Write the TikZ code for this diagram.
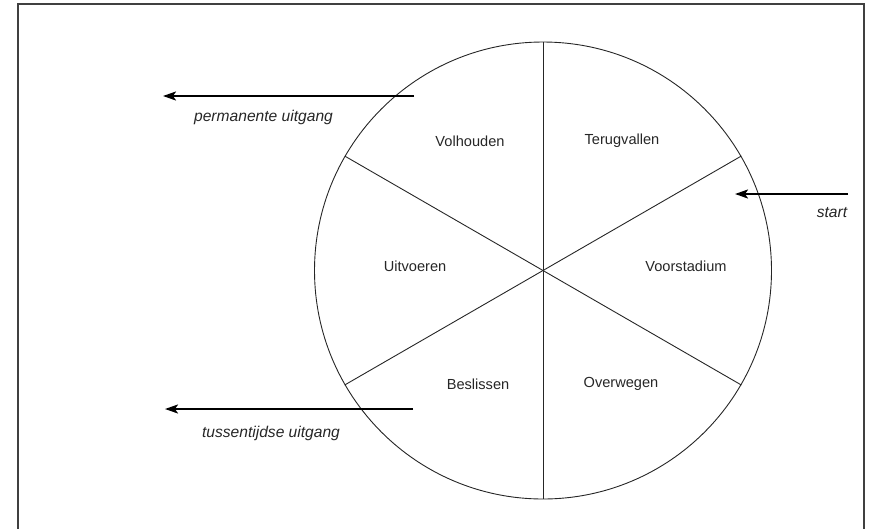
\documentclass[tikz,border=0pt]{standalone}
\usepackage{fontspec}
\setmainfont{Liberation Sans}
\usetikzlibrary{arrows.meta}
\begin{document}
\begin{tikzpicture}[x=1pt,y=-1pt,
  phase/.style={font=\fontsize{14.6}{16}\selectfont, text=black!85, inner sep=0pt},
  exitlbl/.style={font=\fontsize{15.6}{17}\selectfont\itshape, text=black!85, inner sep=0pt},
  flow/.style={line width=2pt, -{Stealth[length=13pt,width=9pt,inset=3pt]}},
  spoke/.style={line width=0.9pt, black!85}]
\useasboundingbox (0,0) rectangle (869,528);
\draw[line width=1.5pt, black!75] (18,540) -- (18,4) -- (864,4) -- (864,540);
\node[draw, circle, minimum size=457pt, inner sep=0pt, line width=0.9pt, black!85] (c) at (543,270.5) {};
\draw[spoke] (c.north) -- (c.south);
\draw[spoke] (c.150) -- (c.-30);
\draw[spoke] (c.30) -- (c.210);
\node[phase] (vol) at (470,141) {Volhouden};
\node[phase] (ter) at (622,141) {Terugvallen};
\node[phase] (uit) at (415,266) {Uitvoeren};
\node[phase] (voo) at (686,266) {Voorstadium};
\node[phase] (bes) at (478,384) {Beslissen};
\node[phase] (ove) at (621,384) {Overwegen};
\coordinate (p1) at (414,96);
\coordinate (p2) at (163,96);
\coordinate (s1) at (848,194);
\coordinate (s2) at (735,194);
\coordinate (t1) at (413,409);
\coordinate (t2) at (165,409);
\draw[flow] (p1) -- (p2);
\draw[flow] (s1) -- (s2);
\draw[flow] (t1) -- (t2);
\node[exitlbl] (lp) at (263.5,117) {permanente uitgang};
\node[exitlbl] (ls) at (832,213) {start};
\node[exitlbl] (lt) at (271,433) {tussentijdse uitgang};
\end{tikzpicture}
\end{document}
